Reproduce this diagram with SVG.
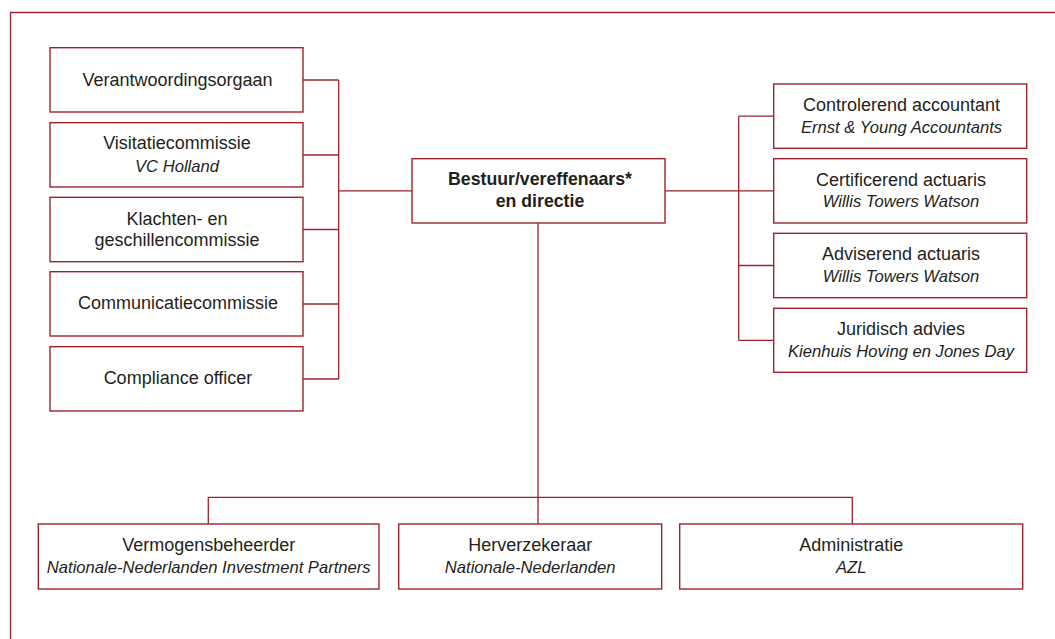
<svg xmlns="http://www.w3.org/2000/svg" width="1055" height="639" viewBox="0 0 1055 639">
<style>
.box{fill:#fff;stroke:#a0212e;stroke-width:1.4}
.ln{fill:none;stroke:#a0212e;stroke-width:1.3}
text{font-family:"Liberation Sans",Arial,sans-serif;fill:#231f20;text-anchor:middle}
.r{font-size:18px}
.b{font-size:17.7px;font-weight:bold}
.i{font-size:16.6px;font-style:italic}
</style>
<rect width="1055" height="639" fill="#fff"/>
<path class="ln" d="M10.5,639 V12.5 H1055"/>
<g id="connectors">
<path class="ln" d="M303,80 H338.7 M303,155 H338.7 M303,229.5 H338.7 M303,304 H338.7 M303,379 H338.7 M338.7,80 V379 M338.7,190.8 H412"/>
<path class="ln" d="M665,190.8 H773.7 M738.7,116.2 V340.3 M738.7,116.2 H773.7 M738.7,265.5 H773.7 M738.7,340.3 H773.7"/>
<path class="ln" d="M538,223 V524 M208.3,524 V497.3 H852.3 V524"/>
</g>
<g id="verantwoordingsorgaan"><rect class="box" x="50" y="47.7" width="253" height="64.3"/><text class="r" x="177.5" y="85.5">Verantwoordingsorgaan</text></g>
<g id="visitatiecommissie"><rect class="box" x="50" y="122.7" width="253" height="64.3"/><text class="r" x="177" y="149">Visitatiecommissie</text><text class="i" x="177" y="171.8">VC Holland</text></g>
<g id="klachten"><rect class="box" x="50" y="197.3" width="253" height="64.4"/><text class="r" x="177" y="225">Klachten- en</text><text class="r" x="177" y="245.7">geschillencommissie</text></g>
<g id="communicatiecommissie"><rect class="box" x="50" y="271.7" width="253" height="64.3"/><text class="r" x="178" y="309.3">Communicatiecommissie</text></g>
<g id="compliance"><rect class="box" x="50" y="346.7" width="253" height="64.3"/><text class="r" x="178" y="384.3">Compliance officer</text></g>
<g id="bestuur"><rect class="box" x="412" y="158.7" width="253" height="64.3"/><text class="b" x="540" y="185">Bestuur/vereffenaars*</text><text class="b" x="540" y="207.3">en directie</text></g>
<g id="controlerend"><rect class="box" x="773.7" y="84" width="253" height="64.3"/><text class="r" x="901.5" y="111">Controlerend accountant</text><text class="i" x="901.5" y="132.7">Ernst &amp; Young Accountants</text></g>
<g id="certificerend"><rect class="box" x="773.7" y="158.7" width="253" height="64.3"/><text class="r" x="901" y="185.5">Certificerend actuaris</text><text class="i" x="901" y="207.3">Willis Towers Watson</text></g>
<g id="adviserend"><rect class="box" x="773.7" y="233.3" width="253" height="64.4"/><text class="r" x="901" y="260">Adviserend actuaris</text><text class="i" x="901" y="282">Willis Towers Watson</text></g>
<g id="juridisch"><rect class="box" x="773.7" y="308.3" width="253" height="64"/><text class="r" x="901" y="334.7">Juridisch advies</text><text class="i" x="901" y="356.7">Kienhuis Hoving en Jones Day</text></g>
<g id="vermogensbeheerder"><rect class="box" x="38.3" y="524" width="340.7" height="65"/><text class="r" x="208.7" y="550.7">Vermogensbeheerder</text><text class="i" x="208.7" y="572.7">Nationale-Nederlanden Investment Partners</text></g>
<g id="herverzekeraar"><rect class="box" x="398.7" y="524" width="263" height="65"/><text class="r" x="530.2" y="550.7">Herverzekeraar</text><text class="i" x="530.2" y="572.7">Nationale-Nederlanden</text></g>
<g id="administratie"><rect class="box" x="679.7" y="524" width="343" height="65"/><text class="r" x="851.2" y="550.7">Administratie</text><text class="i" x="851.2" y="572.7">AZL</text></g>
</svg>
